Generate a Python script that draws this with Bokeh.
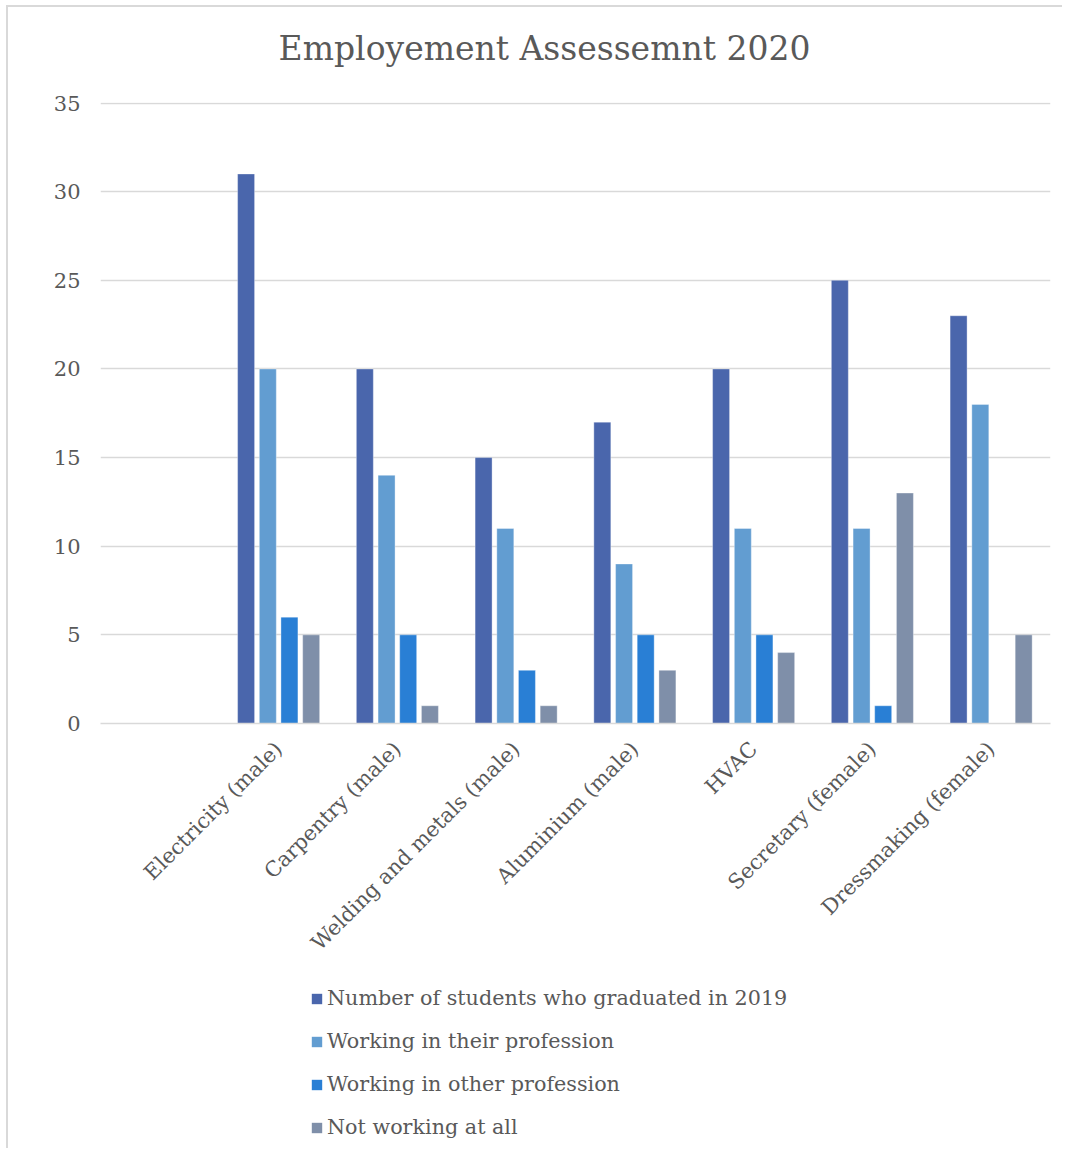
import math
from bokeh.plotting import figure
from bokeh.layouts import column
from bokeh.models import (FactorRange, Range1d, FixedTicker, Legend, LegendItem,
                          ColumnDataSource, Label)
from bokeh.transform import dodge
from bokeh.embed import file_html
from bokeh.resources import INLINE

# ---- data ----
categories = ["Electricity (male)", "Carpentry (male)", "Welding and metals (male)",
              "Aluminium (male)", "HVAC", "Secretary (female)", "Dressmaking (female)"]
series_names = ["Number of students who graduated in 2019",
                "Working in their profession",
                "Working in other profession",
                "Not working at all"]
graduated = [31, 20, 15, 17, 20, 25, 23]
working_own = [20, 14, 11, 9, 11, 11, 18]
working_other = [6, 5, 3, 5, 5, 1, 0]
not_working = [5, 1, 1, 3, 4, 13, 5]
y_ticks = [0, 5, 10, 15, 20, 25, 30, 35]
title_text = "Employement Assessemnt 2020"

# ---- style ----
colors = ["#4A66AC", "#629DD1", "#297FD5", "#7F8FA9"]
offsets = [-0.274, -0.091, 0.091, 0.274]
FONT = "DejaVu Serif"
TXT = "#595959"
GRID = "#D9D9D9"
W = 1062
H0 = 80
H1 = 970 - H0
H2 = 1148 - H0 - H1


def blank_fig(h, top):
    f = figure(width=W, height=h, x_range=Range1d(0, 1), y_range=Range1d(0, 1),
               output_backend="svg", toolbar_location=None,
               min_border_left=100, min_border_top=top, min_border_right=12,
               min_border_bottom=0)
    f.axis.visible = False
    f.grid.grid_line_color = None
    f.outline_line_color = None
    f.border_fill_alpha = 0
    f.background_fill_alpha = 0
    return f


# ---- title strip ----
t = blank_fig(H0, 0)
t.add_layout(Label(x=444, y=32, x_units="screen", y_units="screen", text=title_text,
                   text_align="center", text_baseline="alphabetic", text_font=FONT,
                   text_font_size="33px", text_color=TXT))

# ---- main chart ----
factors = [" "] + categories
p = figure(width=W, height=H1, x_range=FactorRange(factors=factors, range_padding=0),
           y_range=Range1d(0, 35.03), output_backend="svg", toolbar_location=None,
           min_border_left=100, min_border_top=102 - H0, min_border_right=12,
           min_border_bottom=970 - 723)
p.outline_line_color = None
p.background_fill_color = "white"
p.border_fill_alpha = 0

series = [graduated, working_own, working_other, not_working]
for i, vals in enumerate(series):
    src = ColumnDataSource(dict(cat=categories, val=vals))
    p.vbar(x=dodge("cat", offsets[i], range=p.x_range), top="val", width=0.143,
           source=src, fill_color=colors[i], line_color="white", line_alpha=0.35,
           line_width=1)

p.xgrid.grid_line_color = None
p.ygrid.grid_line_color = GRID
p.ygrid.grid_line_width = 1.5
p.yaxis.ticker = FixedTicker(ticks=y_ticks)
p.yaxis.axis_line_color = None
p.yaxis.major_tick_line_color = None
p.yaxis.minor_tick_line_color = None
p.yaxis.major_tick_out = 0
p.yaxis.major_label_standoff = 20
p.yaxis.major_label_text_font = FONT
p.yaxis.major_label_text_font_size = "21px"
p.yaxis.major_label_text_color = TXT

p.xaxis.axis_line_color = GRID
p.xaxis.axis_line_width = 1.5
p.xaxis.major_tick_line_color = None
p.xaxis.minor_tick_line_color = None
p.xaxis.major_tick_out = 0
p.xaxis.major_label_orientation = math.pi / 4
p.xaxis.major_label_standoff = 22
p.xaxis.major_label_text_font = FONT
p.xaxis.major_label_text_font_size = "21px"
p.xaxis.major_label_text_color = TXT

# ---- legend strip ----
q = blank_fig(H2, 8)
items = []
for name, c in zip(series_names, colors):
    # off-screen placeholder so the legend swatch gets drawn
    r = q.vbar(x=[-5], top=[0], width=0.1, fill_color=c, line_color=None)
    items.append(LegendItem(label=name, renderers=[r]))
legend = Legend(items=items, location=(210, 9), orientation="vertical",
                glyph_width=13, glyph_height=13, label_standoff=4, spacing=19,
                label_height=12, padding=0, margin=0,
                border_line_color=None, background_fill_alpha=0,
                label_text_font=FONT, label_text_font_size="20.7px", label_text_color=TXT)
q.add_layout(legend)

layout = column(t, p, q, spacing=0)
layout.styles = {
    "background": ("linear-gradient(#D9D9D9,#D9D9D9) 6px 5px / 2px 100% no-repeat, "
                   "linear-gradient(#D9D9D9,#D9D9D9) 6px 5px / 100% 2px no-repeat, white"),
}
open("out.html", "w").write(file_html(layout, INLINE))
